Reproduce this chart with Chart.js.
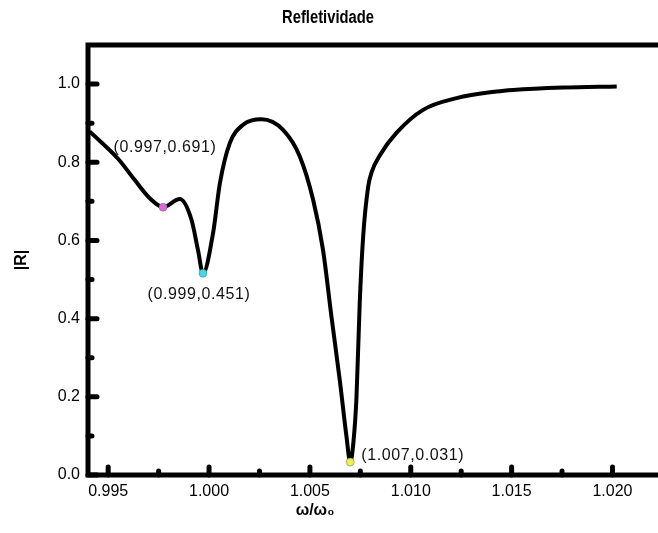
<!DOCTYPE html>
<html>
<head>
<meta charset="utf-8">
<script src="https://cdn.jsdelivr.net/npm/chart.js@4"></script>
<style>
  html, body { margin: 0; padding: 0; background: #fff; overflow: hidden; }
  #wrap { width: 680px; height: 533px; }
</style>
</head>
<body>
<div id="wrap"><canvas id="chart" width="680" height="533"></canvas></div>
<script>
// curve |R| vs w/w0
const omega = [
  0.99408, 0.99549, 0.99631, 0.99714, 0.99772, 0.99855, 0.99913, 0.99945,
  0.99970, 1.00020, 1.00054, 1.00103, 1.00169, 1.00260, 1.00367, 1.00450,
  1.00516, 1.00565, 1.00607, 1.00650, 1.00681, 1.00700, 1.00716, 1.00731,
  1.00747, 1.00764, 1.00789, 1.00807, 1.00847, 1.00929, 1.01061, 1.01227,
  1.01425, 1.01508, 1.01756, 1.02021
];
const refl = [
  0.879, 0.809, 0.755, 0.704, 0.685, 0.706, 0.653, 0.576,
  0.516, 0.619, 0.747, 0.849, 0.896, 0.910, 0.883, 0.815,
  0.704, 0.576, 0.405, 0.235, 0.100, 0.033, 0.085, 0.200,
  0.440, 0.610, 0.738, 0.776, 0.818, 0.875, 0.934, 0.964,
  0.981, 0.985, 0.991, 0.994
];

// marked points
const markX = [0.99772, 0.99970, 1.00700];
const markY = [0.685, 0.516, 0.033];
const markText = ['(0.997,0.691)', '(0.999,0.451)', '(1.007,0.031)'];
const markColors = ['#d86ad8', '#45d8e2', '#eeee55'];

// axes
const xTicks = [0.995, 1.000, 1.005, 1.010, 1.015, 1.020];
const xMinor = [0.9975, 1.0025, 1.0075, 1.0125, 1.0175];
const yTicks = [0.0, 0.2, 0.4, 0.6, 0.8, 1.0];
const yMinor = [0.1, 0.3, 0.5, 0.7, 0.9];

const sans = "'Liberation Sans', Arial, sans-serif";

// where each label sits relative to its marker: [dx, dy, align]
const markLabelPos = [[2, -60, 'center'], [-4, 21, 'center'], [11, -7, 'left']];

const frame = {
    id: 'frame',
    afterDatasetsDraw(chart) {
        const { ctx, chartArea: a, scales: { x, y } } = chart;
        ctx.save();
        ctx.strokeStyle = '#000';
        ctx.lineCap = 'round';
        ctx.lineWidth = 5;
        // inward ticks
        yTicks.forEach(v => {
            const p = y.getPixelForValue(v);
            ctx.beginPath(); ctx.moveTo(a.left, p); ctx.lineTo(a.left + 9, p); ctx.stroke();
        });
        yMinor.forEach(v => {
            const p = y.getPixelForValue(v);
            ctx.beginPath(); ctx.moveTo(a.left, p); ctx.lineTo(a.left + 4, p); ctx.stroke();
        });
        xTicks.forEach(v => {
            const p = x.getPixelForValue(v);
            ctx.beginPath(); ctx.moveTo(p, a.bottom); ctx.lineTo(p, a.bottom - 8); ctx.stroke();
        });
        xMinor.forEach(v => {
            const p = x.getPixelForValue(v);
            ctx.beginPath(); ctx.moveTo(p, a.bottom); ctx.lineTo(p, a.bottom - 4); ctx.stroke();
        });
        // box
        ctx.lineCap = 'butt';
        ctx.strokeRect(a.left, a.top, a.right - a.left, a.bottom - a.top);

        // point labels
        ctx.fillStyle = '#111';
        ctx.font = "16px " + sans;
        ctx.letterSpacing = '0.6px';
        ctx.textBaseline = 'middle';
        markText.forEach((t, i) => {
            const [dx, dy, al] = markLabelPos[i];
            ctx.textAlign = al;
            ctx.fillText(t, x.getPixelForValue(markX[i]) + dx, y.getPixelForValue(markY[i]) + dy);
        });
        ctx.letterSpacing = '0px';

        // titles
        ctx.fillStyle = '#000';
        ctx.textAlign = 'center';
        ctx.font = "bold 16px " + sans;
        ctx.fillText('ω/ω₀', 315, 511);
        // condensed title
        ctx.translate(328, 18);
        ctx.scale(0.82, 1);
        ctx.font = "bold 18px " + sans;
        ctx.fillText('Refletividade', 0, 0);
        ctx.restore();
    }
};

new Chart(document.getElementById('chart'), {
    type: 'line',
    data: {
        datasets: [{
            data: omega.map((v, i) => ({ x: v, y: refl[i] })),
            borderColor: '#000',
            borderWidth: 4,
            pointRadius: 0,
            cubicInterpolationMode: 'monotone',
            order: 2,
        }, {
            data: markX.map((v, i) => ({ x: v, y: markY[i] })),
            showLine: false,
            pointRadius: 4,
            pointBackgroundColor: markColors,
            pointBorderColor: '#666',
            pointBorderWidth: 0.5,
            order: 1,
        }]
    },
    options: {
        responsive: false,
        animation: false,
        devicePixelRatio: 1,
        layout: { padding: { top: 45, right: 7, left: 0, bottom: 0 } },
        plugins: { legend: { display: false }, tooltip: { enabled: false } },
        scales: {
            x: {
                type: 'linear',
                min: 0.994,
                max: 1.023,
                afterBuildTicks: s => { s.ticks = xTicks.map(v => ({ value: v })); },
                afterFit: s => { s.height = 58; },
                grid: { display: false, drawTicks: false },
                border: { display: false },
                ticks: {
                    autoSkip: false, maxRotation: 0, padding: 7, color: '#000',
                    font: { family: sans, size: 16 },
                    callback: v => v.toFixed(3),
                },
            },
            y: {
                min: 0,
                max: 1.1,
                afterBuildTicks: s => { s.ticks = yTicks.map(v => ({ value: v })); },
                afterFit: s => { s.width = 88; },
                grid: { display: false, drawTicks: false },
                border: { display: false },
                ticks: {
                    padding: 8, color: '#000',
                    font: { family: sans, size: 16 },
                    callback: v => v.toFixed(1),
                },
                title: {
                    display: true, text: '|R|', color: '#000',
                    font: { family: sans, size: 16, weight: 'bold' },
                    padding: { top: 12, bottom: 0 },
                },
            },
        },
    },
    plugins: [frame],
});
</script>
</body>
</html>
